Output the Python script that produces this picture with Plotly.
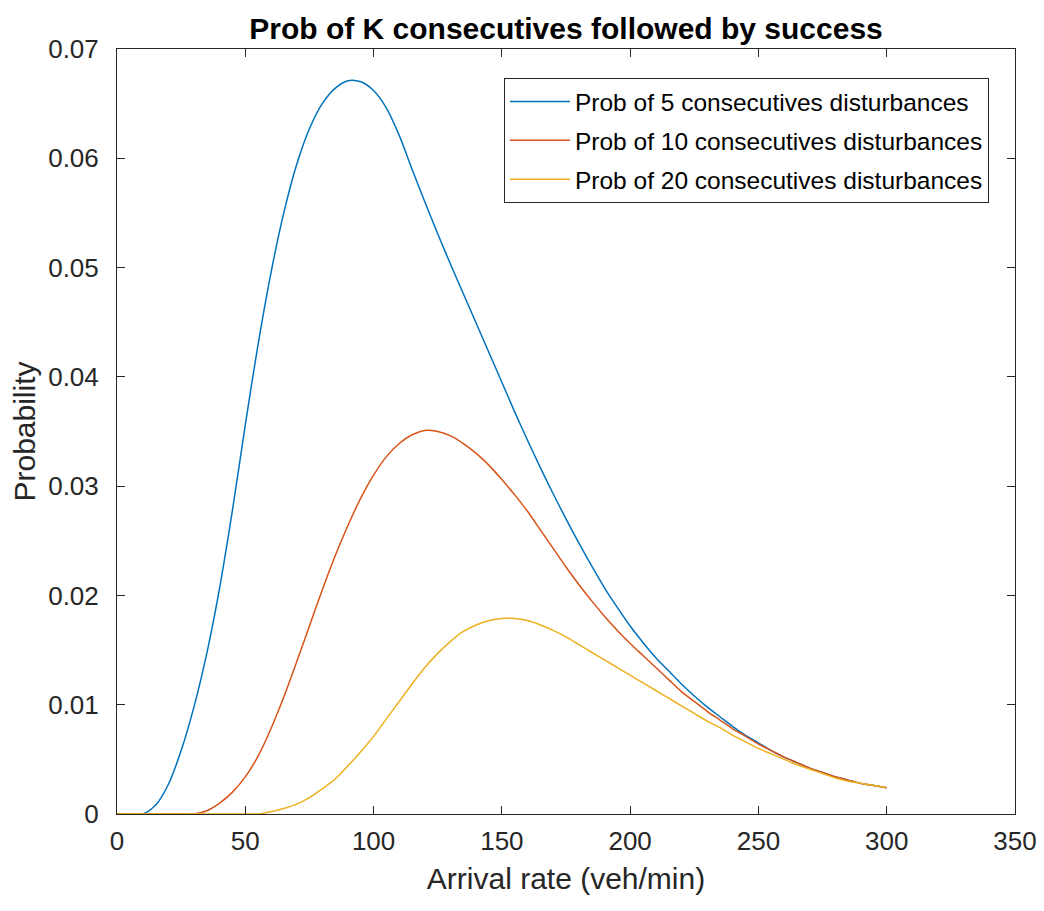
import plotly.graph_objects as go

arrival_rate = list(range(0, 301, 5))

prob_k5 = [0, 0, 0, 0.0008, 0.0027, 0.0058, 0.0098, 0.0147, 0.0207, 0.0278,
           0.0356, 0.0430, 0.0495, 0.0550, 0.0594, 0.0627, 0.0650, 0.0664, 0.0671, 0.0670,
           0.0662, 0.0646, 0.0621, 0.0590, 0.0560, 0.0531, 0.0503, 0.0476, 0.0449, 0.0422,
           0.0395, 0.0368, 0.0342, 0.0317, 0.0293, 0.0270, 0.0248, 0.0227, 0.0207, 0.0189,
           0.0172, 0.0157, 0.0143, 0.0131, 0.0119, 0.0108, 0.0098, 0.0089, 0.0080, 0.0072,
           0.0065, 0.0058, 0.0052, 0.0047, 0.0042, 0.0038, 0.0034, 0.0031, 0.0028, 0.0026,
           0.0024]

prob_k10 = [0, 0, 0, 0, 0, 0, 0, 0.0003, 0.0010, 0.0020,
            0.0034, 0.0053, 0.0078, 0.0107, 0.0139, 0.0172, 0.0205, 0.0236, 0.0264, 0.0289,
            0.0310, 0.0327, 0.0339, 0.0347, 0.0351, 0.0350, 0.0346, 0.0339, 0.0330, 0.0319,
            0.0306, 0.0292, 0.0277, 0.0260, 0.0243, 0.0226, 0.0210, 0.0195, 0.0181, 0.0168,
            0.0156, 0.0145, 0.0134, 0.0123, 0.0112, 0.0103, 0.0094, 0.0086, 0.0078, 0.0071,
            0.0064, 0.0058, 0.0052, 0.0047, 0.0042, 0.0038, 0.0034, 0.0031, 0.0028, 0.0026,
            0.0024]

prob_k20 = [0, 0, 0, 0, 0, 0, 0, 0, 0, 0,
            0, 0, 0.0002, 0.0005, 0.0009, 0.0015, 0.0023, 0.0032, 0.0044, 0.0057,
            0.0071, 0.0087, 0.0103, 0.0119, 0.0134, 0.0147, 0.0158, 0.0167, 0.0173, 0.0177,
            0.0179, 0.0179, 0.0177, 0.0173, 0.0168, 0.0162, 0.0155, 0.0148, 0.0141, 0.0134,
            0.0127, 0.0120, 0.0113, 0.0106, 0.0099, 0.0092, 0.0085, 0.0079, 0.0072, 0.0066,
            0.0060, 0.0055, 0.0050, 0.0045, 0.0041, 0.0037, 0.0033, 0.0030, 0.0028, 0.0026,
            0.0024]

series_names = ["Prob of 5 consecutives disturbances",
                "Prob of 10 consecutives disturbances",
                "Prob of 20 consecutives disturbances"]
series_values = [prob_k5, prob_k10, prob_k20]
series_colors = ["#0072BD", "#D95319", "#EDB120"]

x_tick_vals = [0, 50, 100, 150, 200, 250, 300, 350]
y_tick_vals = [0, 0.01, 0.02, 0.03, 0.04, 0.05, 0.06, 0.07]
y_tick_text = ["0", "0.01", "0.02", "0.03", "0.04", "0.05", "0.06", "0.07"]

FONT = "Liberation Sans, Arial, sans-serif"
AX = "#262626"

fig = go.Figure()
for i, (name, vals, col) in enumerate(zip(series_names, series_values, series_colors)):
    fig.add_trace(go.Scatter(
        x=arrival_rate, y=vals, mode="lines", name=name,
        line=dict(color=col, width=1.5, shape="spline", smoothing=0.8),
        legendgroup=f"g{i}",
    ))

W, H = 1036, 903
fig.update_layout(
    width=W, height=H,
    paper_bgcolor="white", plot_bgcolor="white",
    margin=dict(l=109, r=29, t=41, b=97, autoexpand=False),
    font=dict(family=FONT, color=AX),
    title=dict(text="Prob of K consecutives followed by success",
               font=dict(family=FONT, size=30, color="black", weight="bold"),
               x=558 / W, xanchor="center",
               y=1 - 20 / H, yanchor="middle"),
    showlegend=True,
    legend=dict(x=0.971, y=0.962, xanchor="right", yanchor="top",
                bgcolor="white", bordercolor=AX, borderwidth=1,
                font=dict(family=FONT, size=24.5, color="black"),
                itemwidth=60, tracegroupgap=4, traceorder="grouped"),
)

fig.update_xaxes(
    range=[0, 350], tickvals=x_tick_vals,
    showline=True, linecolor=AX, linewidth=1, mirror="ticks",
    ticks="inside", ticklen=8, tickcolor=AX, showgrid=False, zeroline=False,
    tickfont=dict(family=FONT, size=26, color=AX), ticklabelstandoff=4,
    title=dict(text="Arrival rate (veh/min)", font=dict(family=FONT, size=30, color=AX), standoff=12),
)
fig.update_yaxes(
    range=[0, 0.07], tickvals=y_tick_vals, ticktext=y_tick_text,
    showline=True, linecolor=AX, linewidth=1, mirror="ticks",
    ticks="inside", ticklen=8, tickcolor=AX, showgrid=False, zeroline=False,
    tickfont=dict(family=FONT, size=26, color=AX), ticklabelstandoff=12,
    title=dict(text="Probability", font=dict(family=FONT, size=30, color=AX), standoff=12),
)

fig.write_html("out.html")
